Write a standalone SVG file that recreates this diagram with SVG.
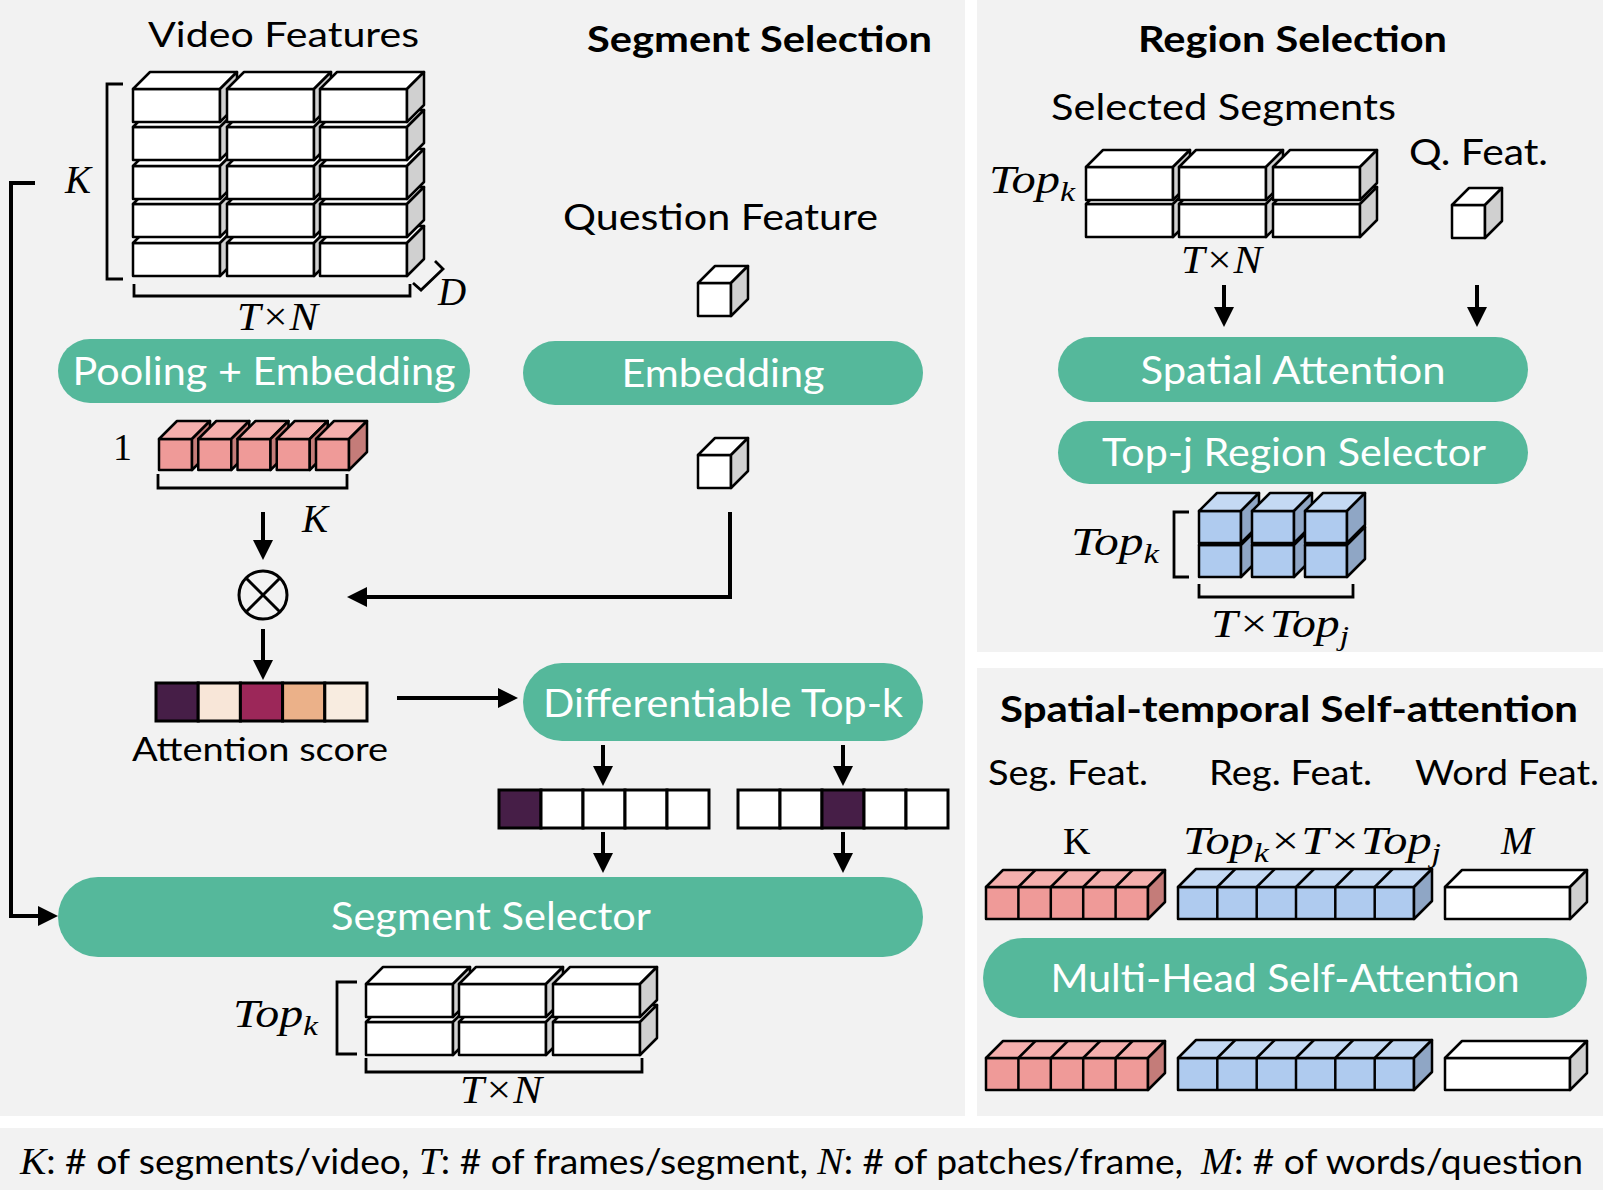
<svg xmlns="http://www.w3.org/2000/svg" width="1606" height="1200" viewBox="0 0 1606 1200">
<style>
.panel{fill:#f2f2f2}
.pill{fill:#55b89b}
.ln{fill:none;stroke:#000;stroke-width:4}
.br{fill:none;stroke:#000;stroke-width:2.8}
.c{stroke:#000;stroke-width:2.5;stroke-linejoin:round}
.fw{fill:#fff}.sw{fill:#d0d0d0}
.fp{fill:#ef9a98}.tp{fill:#f4afad}.sp{fill:#c47c79}
.fb{fill:#afcbef}.tb{fill:#c4d9f3}.sb{fill:#8fa6c5}
.t{font-family:Lato,"Open Sans",sans-serif;fill:#000}
.pt{font-family:Lato,"Open Sans",sans-serif;fill:#fff;font-size:38px;text-anchor:middle}
.h{font-weight:bold;font-size:37px}
.m{font-family:"Liberation Serif",serif;font-style:italic;fill:#000}
.r{font-family:"Liberation Serif",serif;fill:#000}
.cell{stroke:#000;stroke-width:3}
</style>
<defs>
<marker id="ah" viewBox="0 0 20 20" refX="2" refY="10" markerWidth="20" markerHeight="20" markerUnits="userSpaceOnUse" orient="auto"><path d="M0,0L20,10L0,20z" fill="#000"/></marker>
<g id="cw" class="c"><path class="fw" d="M0,0h87v33h-87z"/><path class="fw" d="M0,0l17,-17h87l-17,17z"/><path class="sw" d="M87,0l17,-17v33l-17,17z"/></g>
<g id="cq" class="c"><path class="fw" d="M0,0h33v33h-33z"/><path class="fw" d="M0,0l17,-17h33l-17,17z"/><path class="sw" d="M33,0l17,-17v33l-17,17z"/></g>
<g id="cp" class="c"><path class="fp" d="M0,0h33v31h-33z"/><path class="tp" d="M0,0l18,-18h33l-18,18z"/><path class="sp" d="M33,0l18,-18v31l-18,18z"/></g>
<g id="cb" class="c"><path class="fb" d="M0,0h42v32h-42z"/><path class="tb" d="M0,0l18,-18h42l-18,18z"/><path class="sb" d="M42,0l18,-18v32l-18,18z"/></g>
<g id="rp" class="c"><path class="fp" d="M0,0h162v32h-162z"/><path class="tp" d="M0,0l17,-17h162l-17,17z"/><path class="sp" d="M162,0l17,-17v32l-17,17z"/><path fill="none" d="M32.4,0v32M64.8,0v32M97.2,0v32M129.6,0v32M32.4,0l17,-17M64.8,0l17,-17M97.2,0l17,-17M129.6,0l17,-17"/></g>
<g id="rb" class="c"><path class="fb" d="M0,0h236v32h-236z"/><path class="tb" d="M0,0l18,-18h236l-18,18z"/><path class="sb" d="M236,0l18,-18v32l-18,18z"/><path fill="none" d="M39.3,0v32M78.7,0v32M118,0v32M157.3,0v32M196.7,0v32M39.3,0l18,-18M78.7,0l18,-18M118,0l18,-18M157.3,0l18,-18M196.7,0l18,-18"/></g>
<g id="rw" class="c"><path class="fw" d="M0,0h125v32h-125z"/><path class="fw" d="M0,0l17,-17h125l-17,17z"/><path class="sw" d="M125,0l17,-17v32l-17,17z"/></g>
</defs>

<rect width="1606" height="1200" fill="#fff"/>
<g id="panels">
<rect class="panel" x="0" y="0" width="965" height="1116"/>
<rect class="panel" x="977" y="0" width="626" height="652"/>
<rect class="panel" x="977" y="668" width="626" height="448"/>
<rect class="panel" x="0" y="1128" width="1603" height="62"/>
</g>

<!-- Segment selection -->
<text class="t h" x="587" y="52" textLength="345" lengthAdjust="spacingAndGlyphs">Segment Selection</text>

<g id="video-features">
<text class="t" x="148" y="47" font-size="35" textLength="271" lengthAdjust="spacingAndGlyphs">Video Features</text>
<use href="#cw" x="133" y="243"/><use href="#cw" x="227" y="243"/><use href="#cw" x="320" y="243"/>
<use href="#cw" x="133" y="204"/><use href="#cw" x="227" y="204"/><use href="#cw" x="320" y="204"/>
<use href="#cw" x="133" y="166"/><use href="#cw" x="227" y="166"/><use href="#cw" x="320" y="166"/>
<use href="#cw" x="133" y="127"/><use href="#cw" x="227" y="127"/><use href="#cw" x="320" y="127"/>
<use href="#cw" x="133" y="89"/><use href="#cw" x="227" y="89"/><use href="#cw" x="320" y="89"/>
<path class="br" d="M123,84H107V279H123"/>
<path class="br" d="M134,284V296H410V284"/>
<path class="br" d="M413,283L421,290L443,269L435,261"/>
<text class="m" x="65" y="193" font-size="39">K</text>
<text class="m" x="237" y="330" font-size="40" textLength="81" lengthAdjust="spacingAndGlyphs">T×N</text>
<text class="m" x="438" y="305" font-size="39">D</text>
</g>

<g id="pooling-embedding">
<rect class="pill" x="58" y="339" width="412" height="64" rx="32"/>
<text class="pt" x="264" y="385" textLength="383" lengthAdjust="spacingAndGlyphs">Pooling + Embedding</text>
</g>

<g id="segment-features">
<use href="#cp" x="159" y="439"/><use href="#cp" x="198.25" y="439"/><use href="#cp" x="237.5" y="439"/><use href="#cp" x="276.75" y="439"/><use href="#cp" x="316" y="439"/>
<path class="br" d="M158,474V488H347V474"/>
<text class="r" x="113" y="460" font-size="38">1</text>
<text class="m" x="302" y="532" font-size="39">K</text>
</g>

<g id="question-feature">
<text class="t" x="563" y="230" font-size="37" textLength="315" lengthAdjust="spacingAndGlyphs">Question Feature</text>
<use href="#cq" x="698" y="283"/>
</g>

<g id="embedding">
<rect class="pill" x="523" y="341" width="400" height="64" rx="32"/>
<text class="pt" x="723" y="387" textLength="203" lengthAdjust="spacingAndGlyphs">Embedding</text>
</g>

<g id="question-embedding">
<use href="#cq" x="698" y="455"/>
</g>

<g id="multiply">
<circle cx="263" cy="595" r="24" fill="none" stroke="#000" stroke-width="3"/>
<path d="M246,578L280,612M280,578L246,612" stroke="#000" stroke-width="3"/>
</g>

<g id="attention-score">
<rect class="cell" x="156" y="683" width="42.2" height="38" fill="#461e47"/>
<rect class="cell" x="198.2" y="683" width="42.2" height="38" fill="#f8e6d8"/>
<rect class="cell" x="240.4" y="683" width="42.2" height="38" fill="#9c2759"/>
<rect class="cell" x="282.6" y="683" width="42.2" height="38" fill="#ebb189"/>
<rect class="cell" x="324.8" y="683" width="42.2" height="38" fill="#f8ece0"/>
<text class="t" x="132" y="761" font-size="33" textLength="256" lengthAdjust="spacingAndGlyphs">Attention score</text>
</g>

<g id="differentiable-topk">
<rect class="pill" x="523" y="663" width="400" height="78" rx="39"/>
<text class="pt" x="723" y="717" textLength="360" lengthAdjust="spacingAndGlyphs">Differentiable Top-k</text>
</g>

<g id="onehot-1">
<rect class="cell" x="499" y="790" width="42" height="38" fill="#461e47"/>
<rect class="cell" x="541" y="790" width="42" height="38" fill="#fff"/>
<rect class="cell" x="583" y="790" width="42" height="38" fill="#fff"/>
<rect class="cell" x="625" y="790" width="42" height="38" fill="#fff"/>
<rect class="cell" x="667" y="790" width="42" height="38" fill="#fff"/>
</g>
<g id="onehot-2">
<rect class="cell" x="738" y="790" width="42" height="38" fill="#fff"/>
<rect class="cell" x="780" y="790" width="42" height="38" fill="#fff"/>
<rect class="cell" x="822" y="790" width="42" height="38" fill="#461e47"/>
<rect class="cell" x="864" y="790" width="42" height="38" fill="#fff"/>
<rect class="cell" x="906" y="790" width="42" height="38" fill="#fff"/>
</g>

<g id="segment-selector">
<rect class="pill" x="58" y="877" width="865" height="80" rx="40"/>
<text class="pt" x="491" y="930" textLength="320" lengthAdjust="spacingAndGlyphs">Segment Selector</text>
</g>

<g id="selected-output">
<use href="#cw" x="366" y="1022"/><use href="#cw" x="459" y="1022"/><use href="#cw" x="553" y="1022"/>
<use href="#cw" x="366" y="984"/><use href="#cw" x="459" y="984"/><use href="#cw" x="553" y="984"/>
<path class="br" d="M357,982H337V1054H357"/>
<path class="br" d="M366,1058V1072H642V1058"/>
<text class="m" x="233" y="1027" font-size="40" textLength="85" lengthAdjust="spacingAndGlyphs">Top<tspan font-size="28" dy="8">k</tspan></text>
<text class="m" x="460" y="1103" font-size="40" textLength="82" lengthAdjust="spacingAndGlyphs">T×N</text>
</g>

<!-- Region selection -->
<text class="t h" x="1138" y="52" textLength="309" lengthAdjust="spacingAndGlyphs">Region Selection</text>

<g id="selected-segments">
<text class="t" x="1051" y="120" font-size="37" textLength="345" lengthAdjust="spacingAndGlyphs">Selected Segments</text>
<use href="#cw" x="1086" y="204"/><use href="#cw" x="1179" y="204"/><use href="#cw" x="1273" y="204"/>
<use href="#cw" x="1086" y="167"/><use href="#cw" x="1179" y="167"/><use href="#cw" x="1273" y="167"/>
<text class="m" x="989" y="193" font-size="40" textLength="86" lengthAdjust="spacingAndGlyphs">Top<tspan font-size="28" dy="8">k</tspan></text>
<text class="m" x="1181" y="273" font-size="40" textLength="81" lengthAdjust="spacingAndGlyphs">T×N</text>
</g>

<g id="q-feat">
<text class="t" x="1409" y="165" font-size="37" textLength="139" lengthAdjust="spacingAndGlyphs">Q. Feat.</text>
<use href="#cq" x="1452" y="205"/>
</g>

<g id="spatial-attention">
<rect class="pill" x="1058" y="337" width="470" height="65" rx="32.5"/>
<text class="pt" x="1293" y="384" textLength="305" lengthAdjust="spacingAndGlyphs">Spatial Attention</text>
</g>

<g id="topj-selector">
<rect class="pill" x="1058" y="421" width="470" height="63" rx="31.5"/>
<text class="pt" x="1294" y="466" textLength="384" lengthAdjust="spacingAndGlyphs">Top-j Region Selector</text>
</g>

<g id="selected-regions">
<use href="#cb" x="1199" y="545"/><use href="#cb" x="1252" y="545"/><use href="#cb" x="1305" y="545"/>
<use href="#cb" x="1199" y="511"/><use href="#cb" x="1252" y="511"/><use href="#cb" x="1305" y="511"/>
<path class="br" d="M1189,512H1174V577H1189"/>
<path class="br" d="M1199,584V597H1353V584"/>
<text class="m" x="1071" y="555" font-size="40" textLength="88" lengthAdjust="spacingAndGlyphs">Top<tspan font-size="28" dy="8">k</tspan></text>
<text class="m" x="1211" y="637" font-size="40" textLength="138" lengthAdjust="spacingAndGlyphs">T×Top<tspan font-size="28" dy="8">j</tspan></text>
</g>

<!-- Spatial-temporal self-attention -->
<text class="t h" x="1000" y="722" textLength="578" lengthAdjust="spacingAndGlyphs">Spatial-temporal Self-attention</text>

<g id="input-features">
<text class="t" x="988" y="785" font-size="34" textLength="160" lengthAdjust="spacingAndGlyphs">Seg. Feat.</text>
<text class="t" x="1209" y="785" font-size="34" textLength="163" lengthAdjust="spacingAndGlyphs">Reg. Feat.</text>
<text class="t" x="1415" y="785" font-size="34" textLength="184" lengthAdjust="spacingAndGlyphs">Word Feat.</text>
<text class="r" x="1063" y="854" font-size="38">K</text>
<text class="m" x="1183" y="854" font-size="40" textLength="258" lengthAdjust="spacingAndGlyphs">Top<tspan font-size="28" dy="8">k</tspan><tspan dy="-8">×T×Top</tspan><tspan font-size="28" dy="8">j</tspan></text>
<text class="m" x="1501" y="854" font-size="39">M</text>
<use href="#rp" x="986" y="887"/>
<use href="#rb" x="1178" y="887"/>
<use href="#rw" x="1445" y="887"/>
</g>

<g id="multi-head">
<rect class="pill" x="983" y="938" width="604" height="80" rx="40"/>
<text class="pt" x="1285" y="992" textLength="469" lengthAdjust="spacingAndGlyphs">Multi-Head Self-Attention</text>
</g>

<g id="output-features">
<use href="#rp" x="986" y="1058"/>
<use href="#rb" x="1178" y="1058"/>
<use href="#rw" x="1445" y="1058"/>
</g>

<g id="legend">
<text class="t" x="20" y="1174" font-size="35" textLength="1563" lengthAdjust="spacingAndGlyphs"><tspan class="m" font-size="37">K</tspan>: # of segments/video, <tspan class="m" font-size="37">T</tspan>: # of frames/segment, <tspan class="m" font-size="37">N</tspan>: # of patches/frame, <tspan class="m" font-size="37" dx="8">M</tspan>: # of words/question</text>
</g>

<g id="connectors" class="ln">
<path d="M263,512V542" marker-end="url(#ah)"/>
<path d="M263,629V662" marker-end="url(#ah)"/>
<path d="M730,512V597H365" marker-end="url(#ah)"/>
<path d="M397,698H500" marker-end="url(#ah)"/>
<path d="M603,745V768" marker-end="url(#ah)"/>
<path d="M843,745V768" marker-end="url(#ah)"/>
<path d="M603,832V855" marker-end="url(#ah)"/>
<path d="M843,832V855" marker-end="url(#ah)"/>
<path d="M35,183H11V916H40" marker-end="url(#ah)"/>
<path d="M1224,285V309" marker-end="url(#ah)"/>
<path d="M1477,285V309" marker-end="url(#ah)"/>
</g>
</svg>
